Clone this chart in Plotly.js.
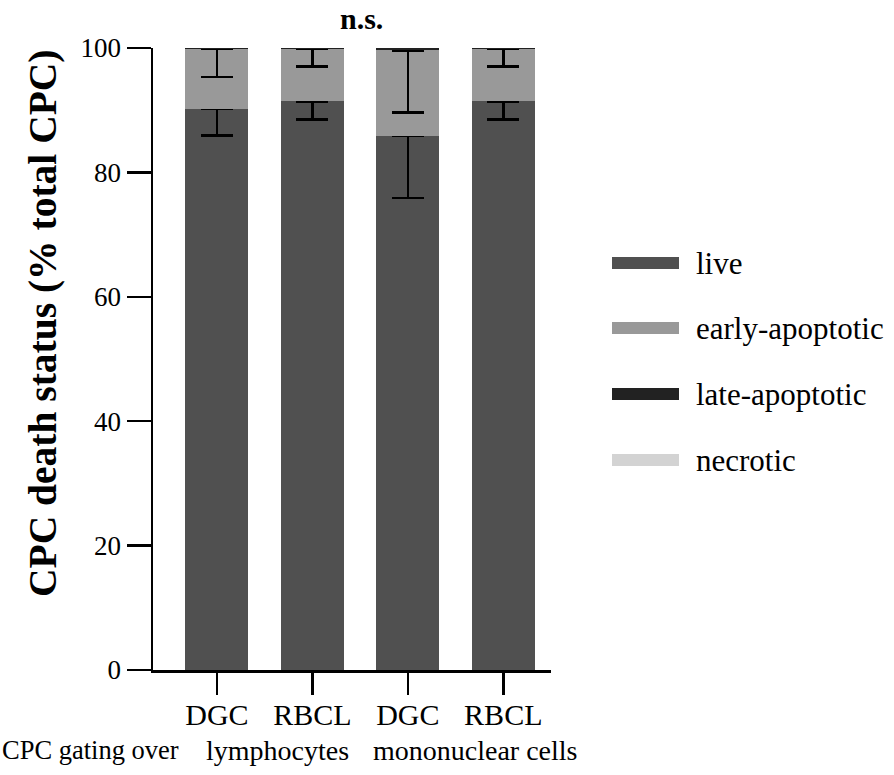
<!DOCTYPE html>
<html>
<head>
<meta charset="utf-8">
<script src="https://cdn.plot.ly/plotly-3.0.1.min.js"></script>
<style>html,body{margin:0;padding:0;background:#fff;}#chart{width:894px;height:775px;}</style>
</head>
<body>
<div id="chart"></div>
<script>
// ---- data ----
const categories = ["DGC", "RBCL", "DGC ", "RBCL "];
const tickLabels = ["DGC", "RBCL", "DGC", "RBCL"];
const seriesNames = ["live", "early-apoptotic", "late-apoptotic", "necrotic"];
const live = [90.2, 91.4, 85.9, 91.4];
const liveErrMinus = [4.3, 2.9, 10.0, 2.9];
const early = [9.6, 8.5, 13.7, 8.5];
const earlyErrMinus = [4.5, 2.9, 10.0, 2.9];
const late = [0.2, 0.1, 0.4, 0.1];
const necrotic = [0.0, 0.0, 0.0, 0.0];
const groupLabels = ["CPC gating over", "lymphocytes", "mononuclear cells"];
const yTitle = "CPC death status (% total CPC)";
const sigLabel = "n.s.";

// ---- styles ----
const colors = ["#505050", "#999999", "#222222", "#d3d3d3"];
const values = [live, early, late, necrotic];
const errs = [liveErrMinus, earlyErrMinus, null, null];
const FONT = "Liberation Serif";

// plot area in pixels
const PX0 = 153, PX1 = 551, PY0 = 48, PY1 = 670;
const px = x => (x - PX0) / (PX1 - PX0);
const py = y => (PY1 - y) / (PY1 - PY0);

const traces = values.map((v, i) => {
  const t = {
    type: "bar", x: categories, y: v, name: seriesNames[i],
    marker: {color: colors[i], line: {width: 0}},
    width: 0.66, showlegend: false, hoverinfo: "y"
  };
  if (errs[i]) {
    t.error_y = {type: "data", symmetric: false, array: v.map(() => 0),
      arrayminus: errs[i], color: "#000", thickness: 2.5, width: 16};
  }
  return t;
});

// manual legend with wide swatches
const shapes = [];
const annotations = [];
const legY = [263, 328, 394, 460];
const hpx = 6 / (PY1 - PY0);
seriesNames.forEach((n, i) => {
  const yc = py(legY[i]);
  shapes.push({type: "rect", xref: "paper", yref: "paper", x0: px(612), x1: px(679),
    y0: yc - hpx, y1: yc + hpx, fillcolor: colors[i], line: {width: 0}, layer: "above"});
  annotations.push({xref: "paper", yref: "paper", x: px(694), y: yc, xanchor: "left", yanchor: "middle",
    text: n, showarrow: false, font: {family: FONT, size: 31, color: "#000"}});
});
// group labels at bottom
const gX = [90, 277, 475];
const gSize = [26.5, 28, 28];
groupLabels.forEach((g, i) => {
  annotations.push({
    xref: "paper", yref: "paper", x: px(gX[i]), y: py(750),
    xanchor: "center", yanchor: "middle", text: g, showarrow: false,
    font: {family: FONT, size: gSize[i], color: "#000"}
  });
});
// y axis title (placed as rotated annotation to match offset centre)
annotations.push({
  xref: "paper", yref: "paper", x: px(43), y: py(324), xanchor: "center", yanchor: "middle",
  text: "<b>" + yTitle + "</b>", textangle: -90, showarrow: false,
  font: {family: FONT, size: 39.5, color: "#000"}
});
// significance label
annotations.push({
  xref: "paper", yref: "paper", x: px(361), y: py(18), xanchor: "center", yanchor: "middle",
  text: "<b>" + sigLabel + "</b>", showarrow: false,
  font: {family: FONT, size: 30, color: "#000"}
});

const layout = {
  width: 894, height: 775,
  margin: {l: PX0, r: 894 - PX1, t: PY0, b: 775 - PY1},
  paper_bgcolor: "#fff", plot_bgcolor: "#fff",
  barmode: "stack",
  showlegend: false,
  font: {family: FONT, color: "#000"},
  xaxis: {
    range: [-0.67, 3.5], tickvals: categories, ticktext: tickLabels,
    showline: true, linecolor: "#000", linewidth: 2.5,
    ticks: "outside", ticklen: 22, tickwidth: 2.5, tickcolor: "#000",
    ticklabelstandoff: -6,
    tickfont: {family: FONT, size: 30, color: "#000"}, showgrid: false, zeroline: false,
    fixedrange: true
  },
  yaxis: {
    range: [0, 100], dtick: 20, tick0: 0,
    showline: true, linecolor: "#000", linewidth: 2.5,
    ticks: "outside", ticklen: 24, tickwidth: 2.5, tickcolor: "#000",
    tickfont: {family: FONT, size: 27, color: "#000"}, showgrid: false, zeroline: false,
    fixedrange: true
  },
  shapes: shapes,
  annotations: annotations
};

Plotly.newPlot("chart", traces, layout, {displayModeBar: false, staticPlot: true});
</script>
</body>
</html>
